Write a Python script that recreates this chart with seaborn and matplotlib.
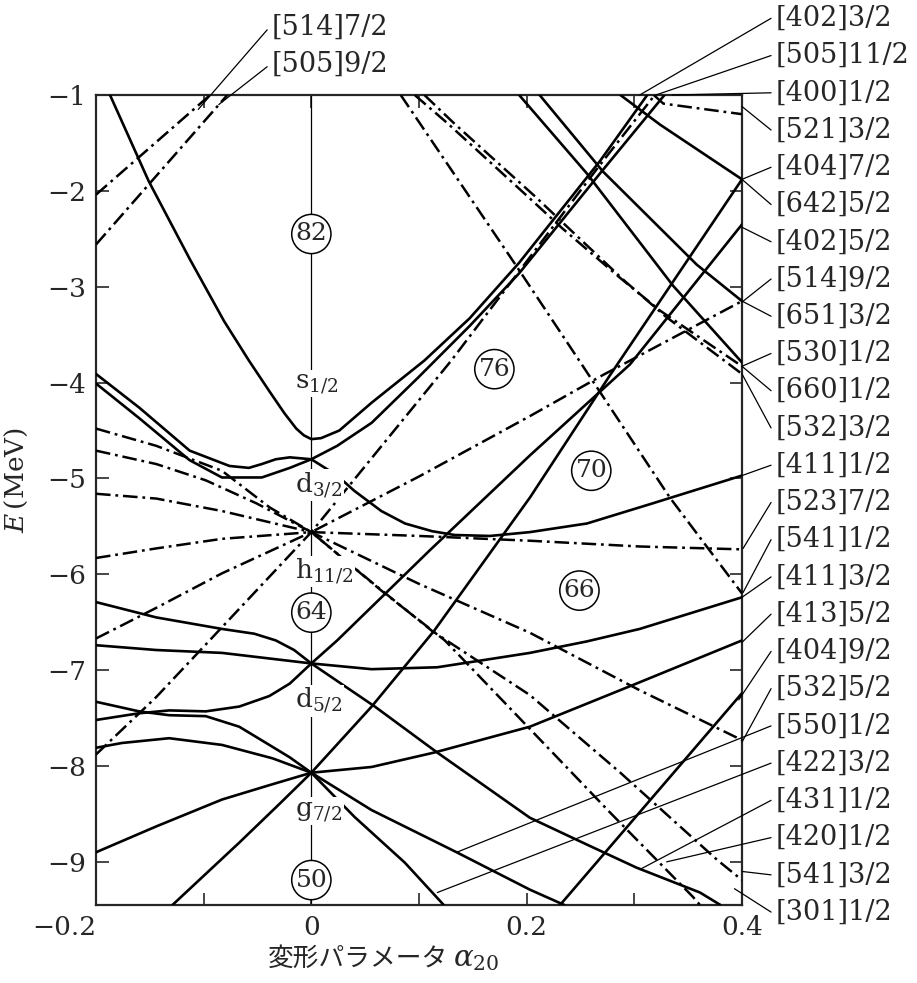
import matplotlib
matplotlib.use("Agg")
import matplotlib.pyplot as plt
import seaborn as sns

sns.set_style("ticks")
plt.rcParams["font.family"] = ["DejaVu Serif", "Noto Sans CJK JP"]
plt.rcParams["mathtext.fontset"] = "dejavuserif"
plt.rcParams["lines.scale_dashes"] = False
plt.rcParams["axes.unicode_minus"] = True

# ---------------- Nilsson single-particle levels (a20, E in MeV) ----------------
# positive parity (N = 4, 6) -> solid lines
s12_x = [-0.187, -0.151, -0.113, -0.081, -0.058, -0.039, -0.025, -0.014, -0.007, 0.0, 0.009, 0.026,
         0.056, 0.105, 0.147, 0.193, 0.268, 0.312]
s12_e = [-1.0, -1.90, -2.71, -3.36, -3.77, -4.09, -4.32, -4.48, -4.55, -4.59, -4.58, -4.50,
         -4.21, -3.77, -3.33, -2.75, -1.69, -1.0]

d32a_x = [-0.2, -0.160, -0.113, -0.076, -0.058, -0.046, -0.033, -0.020, 0.0, 0.024, 0.056, 0.099, 0.147, 0.193, 0.268, 0.328]
d32a_e = [-3.91, -4.26, -4.71, -4.87, -4.89, -4.85, -4.80, -4.78, -4.80, -4.66, -4.42, -3.95, -3.41, -2.86, -1.82, -1.0]

d32b_x = [-0.2, -0.160, -0.113, -0.083, -0.046, -0.020, 0.0, 0.024, 0.040, 0.065, 0.087, 0.112, 0.133, 0.166, 0.203, 0.256, 0.317, 0.4]
d32b_e = [-4.01, -4.37, -4.81, -4.99, -4.99, -4.89, -4.80, -4.97, -5.13, -5.34, -5.47, -5.55, -5.59, -5.60, -5.56, -5.47, -5.26, -4.97]

d52a_x = [-0.2, -0.144, -0.083, -0.053, -0.033, -0.016, 0.0, 0.024, 0.110, 0.203, 0.296, 0.4]
d52a_e = [-6.29, -6.45, -6.57, -6.62, -6.69, -6.79, -6.93, -6.69, -5.75, -4.76, -3.81, -2.35]

d52b_x = [-0.2, -0.144, -0.083, 0.0, 0.056, 0.117, 0.203, 0.256, 0.305, 0.4]
d52b_e = [-6.74, -6.79, -6.82, -6.93, -6.99, -6.97, -6.82, -6.70, -6.57, -6.24]

d52c_x = [-0.2, -0.160, -0.132, -0.098, -0.067, -0.039, -0.020, 0.0, 0.059, 0.117, 0.203, 0.256, 0.302, 0.361, 0.380]
d52c_e = [-7.52, -7.45, -7.42, -7.43, -7.38, -7.27, -7.14, -6.93, -7.38, -7.86, -8.54, -8.82, -9.06, -9.32, -9.45]

g72a_x = [-0.2, -0.160, -0.132, -0.098, -0.067, -0.039, -0.020, 0.0, 0.056, 0.114, 0.203, 0.277, 0.4]
g72a_e = [-7.33, -7.43, -7.47, -7.48, -7.59, -7.78, -7.91, -8.07, -7.38, -6.59, -5.20, -3.93, -1.88]

g72b_x = [-0.2, -0.176, -0.132, -0.083, -0.036, 0.0, 0.056, 0.114, 0.203, 0.302, 0.4]
g72b_e = [-7.81, -7.76, -7.71, -7.78, -7.92, -8.07, -8.01, -7.86, -7.59, -7.14, -6.69]

g72c_x = [-0.2, -0.144, -0.083, -0.039, 0.0, 0.056, 0.135, 0.203, 0.235]
g72c_e = [-8.90, -8.63, -8.35, -8.20, -8.07, -8.46, -8.90, -9.29, -9.45]

g72d_x = [-0.129, -0.067, -0.030, 0.0, 0.040, 0.087, 0.123]
g72d_e = [-9.45, -8.80, -8.40, -8.07, -8.53, -9.01, -9.45]

i660_x = [0.193, 0.256, 0.336, 0.4]
i660_e = [-1.0, -1.82, -2.99, -3.79]
i651_x = [0.212, 0.271, 0.358, 0.4]
i651_e = [-1.0, -1.80, -2.77, -3.15]
i642_x = [0.287, 0.324, 0.4]
i642_e = [-1.0, -1.31, -1.88]
g92_x = [0.231, 0.4]
g92_e = [-9.45, -7.24]

# negative parity (N = 5) -> dash-dot lines
h1_x = [-0.2, -0.144, -0.092, 0.0, 0.130, 0.193, 0.268, 0.319]
h1_e = [-7.88, -7.28, -6.66, -5.56, -3.77, -2.84, -1.73, -1.0]
h2_x = [-0.2, -0.144, -0.083, 0.0, 0.100, 0.203, 0.271, 0.4]
h2_e = [-6.67, -6.35, -5.99, -5.56, -4.98, -4.35, -3.92, -3.15]
h3_x = [-0.2, -0.144, -0.083, 0.0, 0.100, 0.203, 0.305, 0.4]
h3_e = [-5.83, -5.73, -5.63, -5.56, -5.60, -5.65, -5.71, -5.74]
h4_x = [-0.2, -0.144, -0.083, 0.0, 0.100, 0.203, 0.305, 0.4]
h4_e = [-5.16, -5.21, -5.34, -5.56, -6.10, -6.61, -7.21, -7.73]
h5_x = [-0.2, -0.144, -0.098, -0.051, 0.0, 0.059, 0.112, 0.203, 0.287, 0.377, 0.4]
h5_e = [-4.71, -4.85, -5.02, -5.26, -5.56, -6.11, -6.59, -7.26, -8.07, -8.98, -9.19]
h6_x = [-0.2, -0.144, -0.083, -0.039, 0.0, 0.065, 0.124, 0.195, 0.277, 0.354, 0.361]
h6_e = [-4.48, -4.66, -4.92, -5.30, -5.56, -6.17, -6.69, -7.52, -8.48, -9.36, -9.45]

n514_x = [-0.2, -0.094]
n514_e = [-2.04, -1.0]
n505_x = [-0.2, -0.078]
n505_e = [-2.56, -1.0]
n521_x = [0.318, 0.327, 0.4]
n521_e = [-1.0, -1.09, -1.20]
n530_x = [0.096, 0.127, 0.203, 0.233, 0.287, 0.324, 0.4]
n530_e = [-1.0, -1.30, -2.08, -2.39, -2.91, -3.25, -3.83]
n532_x = [0.105, 0.133, 0.208, 0.240, 0.291, 0.329, 0.4]
n532_e = [-1.0, -1.30, -2.06, -2.40, -2.94, -3.31, -3.91]
n541_x = [0.083, 0.189, 0.247, 0.333, 0.4]
n541_e = [-1.0, -2.76, -3.74, -5.20, -6.20]

solid_curves = [(s12_x, s12_e), (d32a_x, d32a_e), (d32b_x, d32b_e), (d52a_x, d52a_e),
                (d52b_x, d52b_e), (d52c_x, d52c_e), (g72a_x, g72a_e), (g72b_x, g72b_e),
                (g72c_x, g72c_e), (g72d_x, g72d_e), (i660_x, i660_e), (i651_x, i651_e),
                (i642_x, i642_e), (g92_x, g92_e)]
dashdot_curves = [(h1_x, h1_e), (h2_x, h2_e), (h3_x, h3_e), (h4_x, h4_e), (h5_x, h5_e),
                  (h6_x, h6_e), (n514_x, n514_e), (n505_x, n505_e), (n521_x, n521_e),
                  (n530_x, n530_e), (n532_x, n532_e), (n541_x, n541_e)]

# spherical states at a20 = 0 and magic numbers
sph_labels = [r"$\mathrm{s}_{1/2}$", r"$\mathrm{d}_{3/2}$", r"$\mathrm{h}_{11/2}$", r"$\mathrm{d}_{5/2}$", r"$\mathrm{g}_{7/2}$"]
sph_label_e = [-4.01, -5.07, -5.97, -7.32, -8.47]
magic_numbers = ["82", "76", "70", "66", "64", "50"]
magic_x = [0.0, 0.170, 0.260, 0.249, 0.0, 0.0]
magic_e = [-2.45, -3.86, -4.92, -6.17, -6.40, -9.19]

# asymptotic quantum numbers [N nz Lambda] Omega, with the level each tag points at
right_tags = ["[402]3/2", "[505]11/2", "[400]1/2", "[521]3/2", "[404]7/2", "[642]5/2",
              "[402]5/2", "[514]9/2", "[651]3/2", "[530]1/2", "[660]1/2", "[532]3/2",
              "[411]1/2", "[523]7/2", "[541]1/2", "[411]3/2", "[413]5/2", "[404]9/2",
              "[532]5/2", "[550]1/2", "[422]3/2", "[431]1/2", "[420]1/2", "[541]3/2", "[301]1/2"]
tag_x = [0.305, 0.320, 0.335, 0.4, 0.4, 0.4, 0.4, 0.4, 0.4, 0.4, 0.4, 0.4, 0.4,
         0.401, 0.401, 0.4, 0.4, 0.397, 0.4, 0.135, 0.117, 0.305, 0.330, 0.4, 0.393]
tag_e = [-1.0, -1.0, -1.0, -1.12, -1.88, -1.88, -2.38, -3.16, -3.15, -3.83, -3.83, -3.91,
         -4.97, -5.73, -6.19, -6.24, -6.71, -7.31, -7.75, -8.90, -9.32, -9.08, -9.0, -9.10, -9.28]
left_tags = ["[514]7/2", "[505]9/2"]
left_tag_x = [-0.105, -0.086]
left_tag_e = [-1.15, -1.10]

# ---------------- figure ----------------
fig = plt.figure(figsize=(9.17, 9.83), dpi=100)
ax = fig.add_axes([96 / 917, 1 - 905 / 983, 646 / 917, 810 / 983])
ax.set_xlim(-0.2, 0.4)
ax.set_ylim(-9.45, -1.0)

ax.axvline(0.0, color="black", lw=0.9, zorder=1)

dashdot = (0, (10.5, 3.5, 2.0, 3.5))
for cx, ce in solid_curves:
    sns.lineplot(x=cx, y=ce, ax=ax, color="black", lw=1.9, sort=False, estimator=None, zorder=3)
for cx, ce in dashdot_curves:
    sns.lineplot(x=cx, y=ce, ax=ax, color="black", lw=1.8, sort=False, estimator=None,
                 linestyle=dashdot, zorder=3)

for lab, e in zip(sph_labels, sph_label_e):
    ax.text(-0.015, e, lab, fontsize=19, ha="left", va="center", zorder=5,
            bbox=dict(boxstyle="square,pad=0.05", fc="white", ec="none"))
for lab, mx, me in zip(magic_numbers, magic_x, magic_e):
    ax.text(mx, me, lab, fontsize=18, ha="center", va="center", zorder=5,
            bbox=dict(boxstyle="circle,pad=0.15", fc="white", ec="black", lw=1.1))

tag_x0 = 0.431
for i, (lab, tx, te) in enumerate(zip(right_tags, tag_x, tag_e)):
    ye = -0.20 - 0.3885 * i
    ax.text(tag_x0, ye, lab, fontsize=19.5, ha="left", va="center", clip_on=False)
    ax.annotate("", xy=(tx, te), xytext=(tag_x0 - 0.004, ye), annotation_clip=False,
                arrowprops=dict(arrowstyle="-", lw=0.9, color="black", shrinkA=0, shrinkB=0))
for i, (lab, tx, te) in enumerate(zip(left_tags, left_tag_x, left_tag_e)):
    ye = -0.29 - 0.385 * i
    ax.text(-0.037, ye, lab, fontsize=19.5, ha="left", va="center", clip_on=False)
    ax.annotate("", xy=(tx, te), xytext=(-0.041, ye - 0.03), annotation_clip=False,
                arrowprops=dict(arrowstyle="-", lw=0.9, color="black", shrinkA=0, shrinkB=0))

ax.set_xticks([-0.2, -0.1, 0.0, 0.1, 0.2, 0.3, 0.4])
ax.set_xticklabels(["\u22120.2", "", "0", "", "0.2", "", "0.4"], fontsize=19)
ax.get_xticklabels()[0].set_horizontalalignment("right")
ax.set_yticks([-1, -2, -3, -4, -5, -6, -7, -8, -9])
ax.set_yticklabels(["\u2212%d" % k for k in range(1, 10)], fontsize=19)
ax.tick_params(direction="in", length=9, width=1.2, top=True, right=True, pad=7)
for sp in ax.spines.values():
    sp.set_linewidth(1.6)

ax.set_ylabel(r"$E\,$(MeV)", fontsize=19)
ax.yaxis.set_label_coords(-0.102, (905 - 480) / 810)

# axis title: Japanese words in a CJK font, the symbol in mathtext
fig.text(448 / 917, 1 - 966 / 983, "変形パラメータ", fontsize=18.5, ha="right", va="baseline",
         family=["Noto Sans CJK JP", "DejaVu Sans"])
fig.text(453 / 917, 1 - 966 / 983, r"$\alpha_{20}$", fontsize=21, ha="left", va="baseline")

fig.savefig("out.png", dpi=100)
